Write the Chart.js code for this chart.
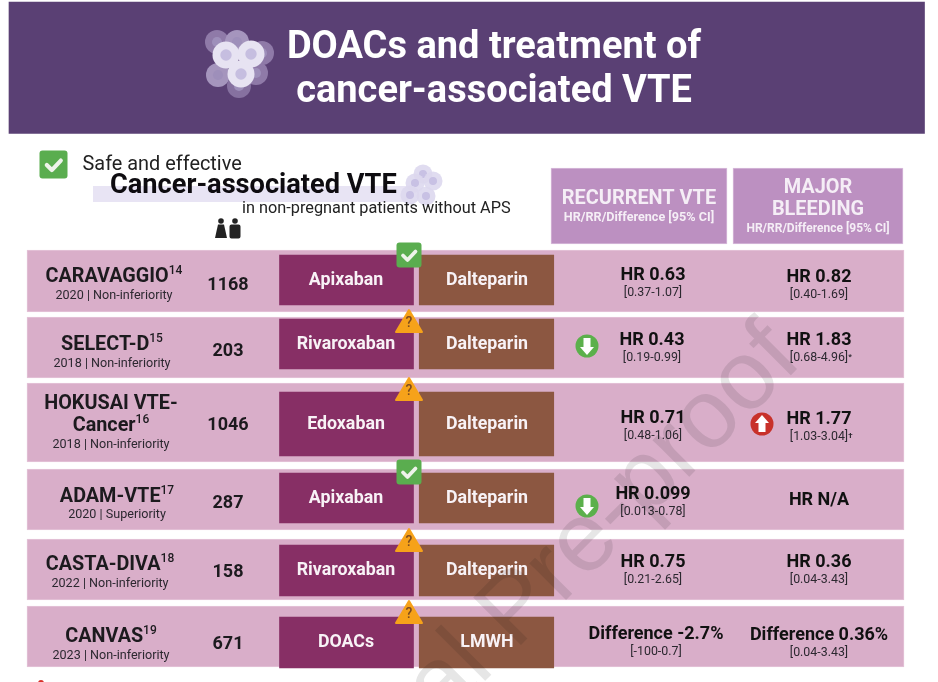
<!DOCTYPE html>
<html>
<head>
<meta charset="utf-8">
<script src="https://cdn.jsdelivr.net/npm/chart.js@4"></script>
<style>
  html, body { margin: 0; padding: 0; background: #fff; }
  canvas { display: block; }
</style>
</head>
<body>
<canvas id="chart" width="938" height="682"></canvas>
<script>
// trial table
const trials = [['CARAVAGGIO'], ['SELECT-D'], ['HOKUSAI VTE-', 'Cancer'], ['ADAM-VTE'], ['CASTA-DIVA'], ['CANVAS']];
const refs = ['14', '15', '16', '17', '18', '19'];
const designs = ['2020 | Non-inferiority', '2018 | Non-inferiority', '2018 | Non-inferiority',
  '2020 | Superiority', '2022 | Non-inferiority', '2023 | Non-inferiority'];
const enrolled = ['1168', '203', '1046', '287', '158', '671'];
const doacs = ['Apixaban', 'Rivaroxaban', 'Edoxaban', 'Apixaban', 'Rivaroxaban', 'DOACs'];
const comparators = ['Dalteparin', 'Dalteparin', 'Dalteparin', 'Dalteparin', 'Dalteparin', 'LMWH'];
const verdicts = ['safe', 'unsure', 'unsure', 'safe', 'unsure', 'unsure'];
const recurrent = ['HR 0.63', 'HR 0.43', 'HR 0.71', 'HR 0.099', 'HR 0.75', 'Difference -2.7%'];
const recurrentCI = ['[0.37-1.07]', '[0.19-0.99]', '[0.48-1.06]', '[0.013-0.78]', '[0.21-2.65]', '[-100-0.7]'];
const recurrentArrow = [null, 'down', null, 'down', null, null];
const bleeding = ['HR 0.82', 'HR 1.83', 'HR 1.77', 'HR N/A', 'HR 0.36', 'Difference 0.36%'];
const bleedingCI = ['[0.40-1.69]', '[0.68-4.96]', '[1.03-3.04]', '', '[0.04-3.43]', '[0.04-3.43]'];
const bleedingMark = ['', '*', '\u2020', '', '', ''];
const bleedingArrow = [null, null, 'up', null, null, null];

// layout of the rows, in page pixels (both axes run 0-938 / 0-682)
const rowTop = [250, 317, 383, 469, 539, 606];
const rowBottom = [312, 378, 462, 530, 600, 667];
const boxTop = [255, 319, 392, 473, 545, 617];
const boxBottom = [305, 369, 456, 523, 596, 668];
const nameX = [114, 112, 111, 117, 110, 111];
const nameY = [277, 345, 404, 497, 565, 637];
const designY = [296, 364, 445, 515, 584, 656];
const countY = [285, 351, 425, 503, 572, 644];
const drugY = [281, 345, 425, 499, 571, 643];
const verdictY = [255, 321, 389, 472, 540, 612];
const recurrentX = [653, 652, 653, 653, 653, 656];
const recurrentY = [275, 340, 418, 494, 562, 634];
const bleedingY = [277, 340, 419, 500, 562, 635];
const arrowY = [0, 346, 424, 506, 0, 0];
const ciDrop = 18;

const FONT = 'Roboto, sans-serif';

function floating(x, tops, bottoms, width, color, border) {
  return {
    data: tops.map((t, i) => ({ x, y: [t, bottoms[i]] })),
    backgroundColor: color,
    borderColor: border || color,
    borderWidth: border ? 1 : 0,
    borderSkipped: false,
    barThickness: width,
    grouped: false
  };
}

function text(ctx, str, x, y, font, color, align) {
  ctx.font = font + ' ' + FONT;
  ctx.fillStyle = color;
  ctx.textAlign = align || 'center';
  ctx.textBaseline = 'middle';
  ctx.fillText(str, x, y);
}

function roundBox(ctx, x, y, w, h, r, color) {
  ctx.fillStyle = color;
  ctx.beginPath();
  ctx.roundRect(x, y, w, h, r);
  ctx.fill();
}

function checkBox(ctx, cx, cy, size) {
  roundBox(ctx, cx - size / 2, cy - size / 2, size, size, 3, '#5aad4f');
  ctx.strokeStyle = '#eef3ea';
  ctx.lineWidth = size * 0.15;
  ctx.lineCap = 'round';
  ctx.lineJoin = 'round';
  ctx.beginPath();
  ctx.moveTo(cx - size * 0.24, cy + size * 0.02);
  ctx.lineTo(cx - size * 0.06, cy + size * 0.2);
  ctx.lineTo(cx + size * 0.26, cy - size * 0.14);
  ctx.stroke();
}

function warning(ctx, cx, cy) {
  ctx.fillStyle = '#f6a21a';
  ctx.strokeStyle = '#f6a21a';
  ctx.lineWidth = 2;
  ctx.lineJoin = 'round';
  ctx.beginPath();
  ctx.moveTo(cx, cy - 11);
  ctx.lineTo(cx + 13, cy + 11);
  ctx.lineTo(cx - 13, cy + 11);
  ctx.closePath();
  ctx.fill();
  ctx.stroke();
  text(ctx, '?', cx, cy + 2, '500 14px', '#7a4a20');
}

function arrow(ctx, cx, cy, dir) {
  const s = dir === 'up' ? -1 : 1;
  ctx.fillStyle = dir === 'up' ? '#c8312a' : '#5bb04b';
  ctx.beginPath();
  ctx.arc(cx, cy, 11.5, 0, Math.PI * 2);
  ctx.fill();
  ctx.fillStyle = '#fff';
  ctx.beginPath();
  ctx.moveTo(cx - 3.5, cy - 8 * s);
  ctx.lineTo(cx + 3.5, cy - 8 * s);
  ctx.lineTo(cx + 3.5, cy + 1 * s);
  ctx.lineTo(cx + 7, cy + 1 * s);
  ctx.lineTo(cx, cy + 9 * s);
  ctx.lineTo(cx - 7, cy + 1 * s);
  ctx.lineTo(cx - 3.5, cy + 1 * s);
  ctx.closePath();
  ctx.fill();
}

function cell(ctx, x, y, r, body, nucleus) {
  ctx.fillStyle = body;
  ctx.beginPath();
  ctx.arc(x, y, r, 0, Math.PI * 2);
  ctx.fill();
  ctx.fillStyle = nucleus;
  ctx.beginPath();
  ctx.arc(x, y, r * 0.42, 0, Math.PI * 2);
  ctx.fill();
}

function person(ctx, x, y, skirt) {
  ctx.fillStyle = '#222';
  ctx.beginPath();
  ctx.arc(x, y - 8, 2.8, 0, Math.PI * 2);
  ctx.fill();
  ctx.beginPath();
  if (skirt) {
    ctx.moveTo(x - 3, y - 4.5);
    ctx.lineTo(x + 3, y - 4.5);
    ctx.lineTo(x + 6, y + 9);
    ctx.lineTo(x - 6, y + 9);
  } else {
    ctx.roundRect(x - 5.5, y - 4.5, 11, 14, 2);
  }
  ctx.closePath();
  ctx.fill();
}

function trialName(ctx, lines, ref, x, y) {
  lines.forEach((line, i) => {
    const last = i === lines.length - 1;
    const ly = y + i * 22;
    ctx.font = '700 19.8px ' + FONT;
    const w = ctx.measureText(line).width;
    ctx.font = '500 12px ' + FONT;
    const sw = last ? ctx.measureText(ref).width : 0;
    const left = x - (w + sw) / 2;
    text(ctx, line, left, ly, '700 19.8px', '#1c1a1e', 'left');
    if (last) text(ctx, ref, left + w, ly - 6, '500 12px', '#1c1a1e', 'left');
  });
}

const paintPlugin = {
  id: 'paint',
  afterDatasetsDraw(chart) {
    const { ctx, scales } = chart;
    const X = v => scales.x.getPixelForValue(v);
    const Y = v => scales.y.getPixelForValue(v);
    ctx.save();

    // banner
    [[217, 42, '#8f7aa8'], [237, 42, '#a595bd'], [262, 53, '#8f7aa8'], [218, 75, '#a595bd'],
     [256, 73, '#8f7aa8'], [239, 86, '#8671a0']].forEach(c => cell(ctx, X(c[0]), Y(c[1]), 12, c[2], '#9e8fba'));
    [[226, 55], [251, 54], [241, 74]].forEach(c => cell(ctx, X(c[0]), Y(c[1]), 13.5, '#e7e3f2', '#c6bee0'));
    text(ctx, 'DOACs and treatment of', X(494), Y(48), '700 38px', '#fff');
    text(ctx, 'cancer-associated VTE', X(494), Y(92), '700 38px', '#fff');

    // sub heading
    checkBox(ctx, X(53.5), Y(164.5), 28);
    text(ctx, 'Safe and effective', X(82.5), Y(165), '400 19.9px', '#222', 'left');
    ctx.fillStyle = '#e8e4f4';
    ctx.fillRect(X(93), Y(186), X(315), Y(16));
    [[423, 174], [415, 183], [433, 181], [410, 195], [426, 196]].forEach(c =>
      cell(ctx, X(c[0]), Y(c[1]), 9.5, 'rgba(221,216,238,0.9)', '#c8c1e4'));
    text(ctx, 'Cancer-associated VTE', X(110), Y(186), '700 27.2px', '#0e0c10', 'left');
    text(ctx, 'in non-pregnant patients without APS', X(242), Y(209), '400 16.3px', '#222', 'left');
    person(ctx, X(221), Y(229), true);
    person(ctx, X(235), Y(229), false);

    // column headers
    text(ctx, 'RECURRENT VTE', X(639), Y(199), '700 19.9px', '#f5eef6');
    text(ctx, 'HR/RR/Difference [95% CI]', X(639), Y(218), '700 12.6px', '#f5eef6');
    text(ctx, 'MAJOR', X(818), Y(188), '700 19.9px', '#f5eef6');
    text(ctx, 'BLEEDING', X(818), Y(210), '700 19.9px', '#f5eef6');
    text(ctx, 'HR/RR/Difference [95% CI]', X(818), Y(229), '700 12px', '#f5eef6');

    // rows
    trials.forEach((lines, i) => {
      trialName(ctx, lines, refs[i], X(nameX[i]), Y(nameY[i]));
      text(ctx, designs[i], X(nameX[i]), Y(designY[i]), '400 12.6px', '#2c2830');
      text(ctx, enrolled[i], X(228), Y(countY[i]), '700 18px', '#1c1a1e');
      text(ctx, doacs[i], X(346), Y(drugY[i]), '700 17.8px', '#f8f2f6');
      text(ctx, comparators[i], X(487), Y(drugY[i]), '700 17.8px', '#f8f2f6');

      text(ctx, recurrent[i], X(recurrentX[i]), Y(recurrentY[i]), '700 18px', '#111');
      text(ctx, recurrentCI[i], X(recurrentX[i]), Y(recurrentY[i] + ciDrop), '400 12.4px', '#2c2830');
      text(ctx, bleeding[i], X(819), Y(bleedingY[i]), '700 18px', '#111');
      text(ctx, bleedingCI[i], X(819), Y(bleedingY[i] + ciDrop), '400 12.4px', '#2c2830');
      if (bleedingMark[i]) {
        const right = X(819) + ctx.measureText(bleedingCI[i]).width / 2;
        text(ctx, bleedingMark[i], right, Y(bleedingY[i] + ciDrop - 1), '700 8px', '#2c2830', 'left');
      }

      if (verdicts[i] === 'safe') checkBox(ctx, X(409), Y(verdictY[i]), 25);
      else warning(ctx, X(409), Y(verdictY[i]));
      if (recurrentArrow[i]) arrow(ctx, X(587), Y(arrowY[i]), recurrentArrow[i]);
      if (bleedingArrow[i]) arrow(ctx, X(762), Y(arrowY[i]), bleedingArrow[i]);
    });

    // footnote marker cut by the page edge
    ctx.fillStyle = '#d8302a';
    ctx.beginPath();
    ctx.arc(X(41), Y(683), 3, 0, Math.PI * 2);
    ctx.fill();

    // watermark over everything
    ctx.globalCompositeOperation = 'multiply';
    ctx.translate(X(804), Y(362));
    ctx.rotate(-45 * Math.PI / 180);
    ctx.font = '98px "Liberation Sans", sans-serif';
    ctx.fillStyle = '#e6e6e6';
    ctx.textAlign = 'right';
    ctx.textBaseline = 'alphabetic';
    ctx.fillText('Journal Pre-proof', 0, 0);
    ctx.restore();
  }
};

new Chart(document.getElementById('chart'), {
  type: 'bar',
  data: {
    datasets: [
      floating(346.5, boxTop, boxBottom, 134, '#872f65'),
      floating(486.5, boxTop, boxBottom, 134.5, '#8c5741'),
      floating(465.5, rowTop, rowBottom, 877, '#d9aec9', '#e4c5d8'),
      floating(639, [168], [244], 176, '#bc90c1', '#d8bcdb'),
      floating(818, [168], [244], 170, '#bc90c1', '#d8bcdb'),
      floating(466.75, [2], [133.5], 915.5, '#5a4074')
    ]
  },
  options: {
    responsive: false,
    animation: false,
    layout: { padding: 0 },
    plugins: { legend: { display: false }, tooltip: { enabled: false } },
    scales: {
      x: { type: 'linear', min: 0, max: 938, offset: false, display: false },
      y: { min: 0, max: 682, reverse: true, display: false }
    }
  },
  plugins: [paintPlugin]
});
</script>
</body>
</html>
